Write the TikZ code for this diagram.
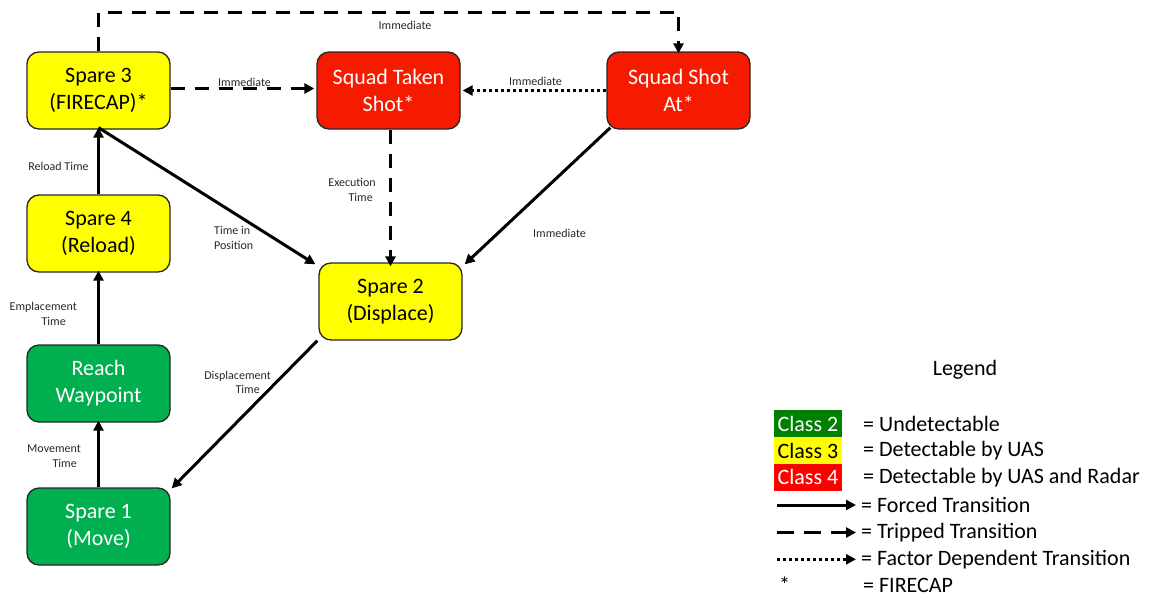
\documentclass[tikz,border=0pt]{standalone}
\usepackage{fontspec}
\setmainfont{Carlito}
\usetikzlibrary{arrows.meta,calc}
\definecolor{nodered}{RGB}{245,26,0}
\definecolor{nodegreen}{RGB}{0,176,80}
\definecolor{nodeyellow}{RGB}{255,255,0}
\definecolor{leggreen}{RGB}{0,128,0}
\definecolor{legred}{RGB}{255,0,0}
\definecolor{labelgray}{RGB}{40,40,40}
\tikzset{
  state/.style={draw=black!85, line width=1.3pt, rounded corners=12pt,
    minimum width=143pt, minimum height=77pt, inner sep=2pt, align=center,
    font=\fontsize{22}{27}\selectfont},
  yel/.style={state, fill=nodeyellow, text=black},
  redst/.style={state, fill=nodered, text=white},
  grn/.style={state, fill=nodegreen, text=white},
  tip/.style={-{Triangle[length=10pt,width=10pt]}},
  forced/.style={tip, line width=3pt},
  tripped/.style={tip, line width=3pt, dash pattern=on 14pt off 10pt},
  factor/.style={tip, line width=3pt, dash pattern=on 3pt off 3pt},
  lbl/.style={font=\fontsize{12}{14.6}\selectfont, text=labelgray, inner sep=0pt},
  legtxt/.style={font=\fontsize{22}{27}\selectfont, anchor=west, inner sep=0pt},
  classbox/.style={minimum width=68pt, minimum height=27pt, inner sep=0pt,
    font=\fontsize{22}{27}\selectfont}
}
\begin{document}
\begin{tikzpicture}[x=1pt,y=-1pt]
\useasboundingbox (0,0) rectangle (1154,597);
% states
\node[yel]   (s3)  at (98.5,90.5)  {Spare 3\\(FIRECAP)*};
\node[redst] (sts) at (388.5,90.5) {Squad Taken\\Shot*};
\node[redst] (ssa) at (678.5,90.5) {Squad Shot\\At*};
\node[yel]   (s4)  at (98.5,233.5) {Spare 4\\(Reload)};
\node[yel]   (s2)  at (390.5,301.5) {Spare 2\\(Displace)};
\node[grn]   (rw)  at (98.5,383.5) {Reach\\Waypoint};
\node[grn]   (s1)  at (98.5,526.5) {Spare 1\\(Move)};
% connectors
\draw[tripped] (s3.north) -- ++(0,-39) -| ([yshift=-2pt]ssa.north);
\draw[tripped] ([yshift=2pt]s3.east) -- ([shift={(-2pt,2pt)}]sts.west);
\draw[factor] (ssa.west) -- ([xshift=2pt]sts.east);
\draw[tripped] ([xshift=2pt]sts.south) -- ([shift={(0pt,-4pt)}]s2.north);
\draw[forced] ([shift={(4pt,2pt)}]ssa.south west) -- ([shift={(2pt,-2pt)}]s2.north east);
\draw[forced] ([yshift=2pt]s3.south) -- ([shift={(-3pt,-2pt)}]s2.north west);
\draw[forced] (s4.north) -- ([yshift=2pt]s3.south);
\draw[forced] (rw.north) -- ([yshift=2pt]s4.south);
\draw[forced] (s1.north) -- ([yshift=2pt]rw.south);
\draw[forced] ([xshift=-1pt]s2.south west) -- ([shift={(1pt,-1pt)}]s1.north east);
% connector labels
\node[lbl] (l1) at (405,25) {Immediate};
\node[lbl] (l2) at (244.5,82) {Immediate};
\node[lbl] (l3) at (535.5,81) {Immediate};
\node[lbl] (l4) at (559.5,233) {Immediate};
\node[lbl, align=right, anchor=east] (l5) at (376,190) {Execution\\Time\hspace*{3pt}};
\node[lbl, align=left, anchor=west] (l6) at (214,238) {Time in\\Position};
\node[lbl] (l7) at (58.5,166) {Reload Time};
\node[lbl, align=right, anchor=east] (l8) at (77,314) {Emplacement\\Time\hspace*{11pt}};
\node[lbl, align=right, anchor=east] (l9) at (81,456) {Movement\\Time\hspace*{4pt}};
\node[lbl, align=right, anchor=east] (l10) at (271,382.5) {Displacement\\Time\hspace*{11pt}};
% legend
\node[font=\fontsize{22}{27}\selectfont] (leg) at (965,370) {Legend};
\node[classbox, fill=leggreen, text=white] (c2) at (808,423.7) {Class 2};
\node[classbox, fill=nodeyellow, text=black] (c3) at (808,450.7) {Class 3};
\node[classbox, fill=legred, text=white] (c4) at (808,477.3) {Class 4};
\node[legtxt] (t2) at (863,423.7) {= Undetectable};
\node[legtxt] (t3) at (863,450.7) {= Detectable by UAS};
\node[legtxt] (t4) at (863,477.3) {= Detectable by UAS and Radar};
\coordinate (fa) at (777,505);   \coordinate (fb) at (856,505);
\coordinate (ta) at (777,532.5); \coordinate (tb) at (856,532.5);
\coordinate (da) at (777,559.3); \coordinate (db) at (856,559.3);
\draw[forced] (fa) -- (fb);
\draw[tip, line width=3pt, dash pattern=on 17pt off 10pt] (ta) -- (tb);
\draw[factor] (da) -- (db);
\node[legtxt] (t5) at (861,505) {= Forced Transition};
\node[legtxt] (t6) at (861,532.5) {= Tripped Transition};
\node[legtxt] (t7) at (861,559.3) {= Factor Dependent Transition};
\node[legtxt] (ast) at (779,585) {*};
\node[legtxt] (t8) at (863,585) {= FIRECAP};
\end{tikzpicture}
\end{document}
